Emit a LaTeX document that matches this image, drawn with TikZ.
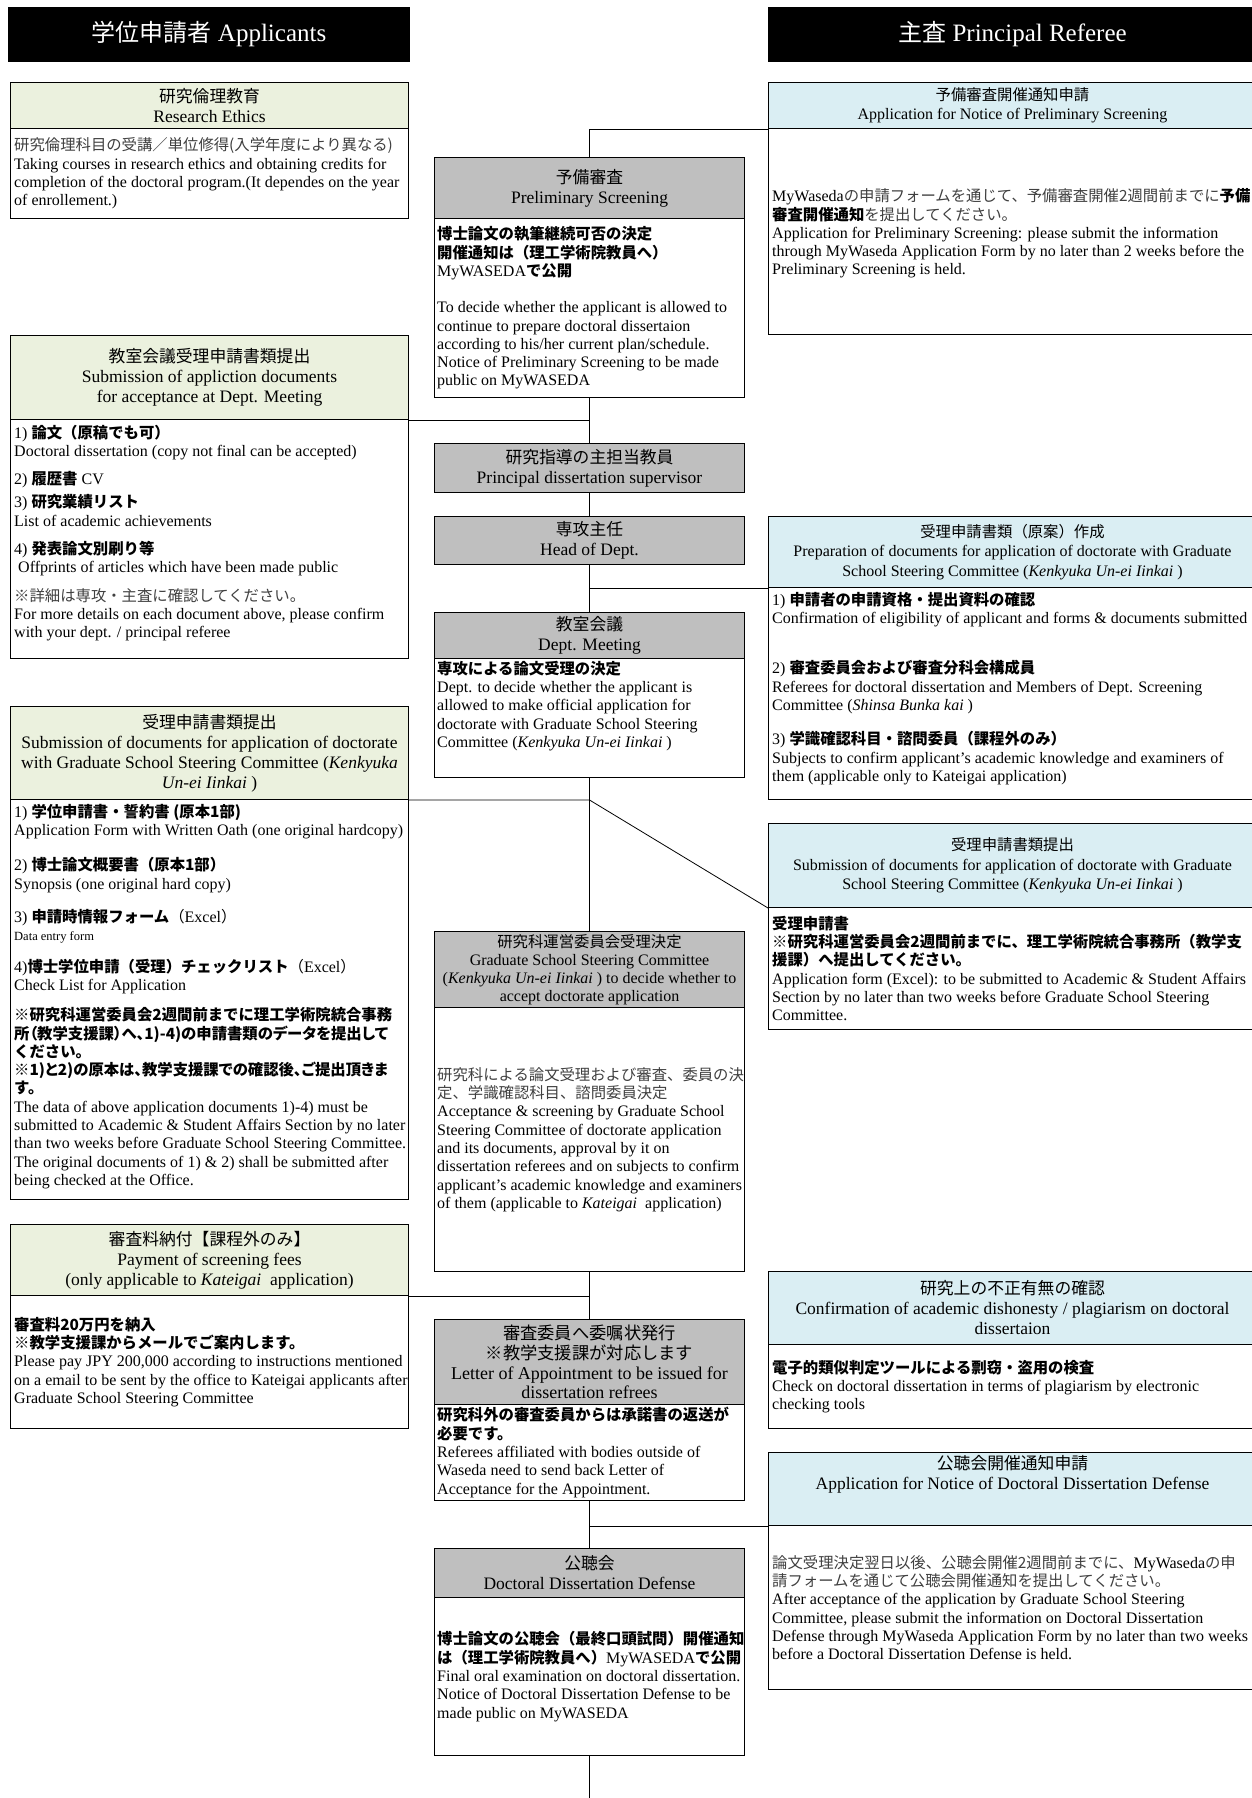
\documentclass[tikz,border=0pt]{standalone}
\usepackage{fontspec}
\setmainfont{Liberation Serif}
\newfontfamily\jp{Noto Sans CJK JP}[Scale=0.96]
\newfontfamily\jpp{Noto Sans CJK JP}[Scale=0.96, RawFeature=+palt]
\newcommand{\jr}[1]{{\jp #1}}
\newcommand{\jb}[1]{{\jp\bfseries #1}}
\newcommand{\jbp}[1]{{\jpp\bfseries #1}}
\newcommand{\jl}[1]{{\jp\color{lighttxt}#1}}
\definecolor{hdgreen}{HTML}{EBF1DE}
\definecolor{hdblue}{HTML}{DAEEF3}
\definecolor{hdgray}{HTML}{BFBFBF}
\definecolor{lighttxt}{HTML}{404040}

\begin{document}
\begin{tikzpicture}[x=1pt, y=-1pt,
    box/.style={draw, line width=1pt, anchor=north west, inner sep=0pt, align=center, font=\fontsize{16}{19.5}\selectfont},
    lbox/.style={box, minimum width=398pt},
    cbox/.style={box, minimum width=310pt},
    rbox/.style={box, minimum width=488pt},
    big/.style={font=\fontsize{17.5}{20}\selectfont},
    ttl/.style={align=center, inner sep=0pt, big},
    txt/.style={anchor=west, align=left, inner sep=0pt, font=\fontsize{16}{18.3}\selectfont},
    conn/.style={line width=0.8pt}]

    % Page
    \fill[white] (0,0) rectangle (1252,1798);
    \useasboundingbox (0,0) rectangle (1252,1798);

    % Column headers
    \node[box, fill=black, text=white, minimum width=401pt, minimum height=54pt, font=\fontsize{25}{28}\selectfont] (applH) at (8,7) {\jr{学位申請者} Applicants};
    \node[box, fill=black, text=white, minimum width=488pt, minimum height=54pt, font=\fontsize{25}{28}\selectfont] (refH) at (768,7) {\jr{主査} Principal Referee};

    % Left column (applicant)
    \node[lbox, big, fill=hdgreen, minimum height=46pt] (ethicsT) at (10,82) {\jr{研究倫理教育}\\Research Ethics};
    \node[lbox, minimum height=90pt] (ethicsB) at (10,128) {};
    \node[txt] (ethicsX) at ([xshift=4pt]ethicsB.west) {\jl{研究倫理科目の受講／単位修得(入学年度により異なる)}\\
        Taking courses in research ethics and obtaining credits for\\
        completion of the doctoral program.(It dependes on the year\\
        of enrollement.)};

    \node[lbox, big, fill=hdgreen, minimum height=84pt] (docsT) at (10,335) {\jr{教室会議受理申請書類提出}\\Submission of appliction documents\\for acceptance at Dept. Meeting};
    \node[lbox, minimum height=239pt] (docsB) at (10,419) {};
    \node[txt, yshift=6pt] (docsX) at ([xshift=4pt]docsB.west) {1) \jb{論文（原稿でも可）}\\
        Doctoral dissertation (copy not final can be accepted)\\[10pt]
        2) \jb{履歴書} CV\\[5pt]
        3) \jb{研究業績リスト}\\
        List of academic achievements\\[10pt]
        4) \jb{発表論文別刷り等}\\
        \ Offprints of articles which have been made public\\[10pt]
        \jl{※詳細は専攻・主査に確認してください。}\\
        For more details on each document above, please confirm\\
        with your dept. / principal referee};

    \node[lbox, big, fill=hdgreen, minimum height=93pt] (applyT) at (10,706) {\jr{受理申請書類提出}\\Submission of documents for application of doctorate\\with Graduate School Steering Committee (\textit{Kenkyuka}\\\textit{Un-ei Iinkai} )};
    \node[lbox, minimum height=400pt] (applyB) at (10,799) {};
    \node[txt, yshift=3pt] (applyX) at ([xshift=4pt]applyB.west) {1) \jb{学位申請書・誓約書 (原本1部)}\\
        Application Form with Written Oath (one original hardcopy)\\[17pt]
        2) \jb{博士論文概要書（原本1部）}\\
        Synopsis (one original hard copy)\\[15pt]
        3) \jb{申請時情報フォーム}\jr{（}Excel\jr{）}\\
        {\fontsize{12.5}{14}\selectfont Data entry form}\\[13pt]
        4)\jb{博士学位申請（受理）チェックリスト}\jr{（}Excel\jr{）}\\
        Check List for Application\\[12pt]
        \jb{※研究科運営委員会2週間前までに理工学術院統合事務}\\
        \jbp{所（教学支援課）へ、1)-4)の申請書類のデータを提出して}\\
        \jb{ください。}\\
        \jbp{※1)と2)の原本は、教学支援課での確認後、ご提出頂きま}\\
        \jb{す。}\\
        The data of above application documents 1)-4) must be\\
        submitted to Academic \& Student Affairs Section by no later\\
        than two weeks before Graduate School Steering Committee.\\
        The original documents of 1) \& 2) shall be submitted after\\
        being checked at the Office.};

    \node[lbox, big, fill=hdgreen, minimum height=71pt] (feeT) at (10,1224) {\jr{審査料納付【課程外のみ】}\\Payment of screening fees\\(only applicable to \textit{Kateigai}\ \ application)};
    \node[lbox, minimum height=133pt] (feeB) at (10,1295) {};
    \node[txt] (feeX) at ([xshift=4pt]feeB.west) {\jb{審査料20万円を納入}\\
        \jb{※教学支援課からメールでご案内します。}\\
        Please pay JPY 200,000 according to instructions mentioned\\
        on a email to be sent by the office to Kateigai applicants after\\
        Graduate School Steering Committee};

    % Center column (flow)
    \node[cbox, big, fill=hdgray, minimum height=61pt] (prelimT) at (434,157) {\jr{予備審査}\\Preliminary Screening};
    \node[cbox, minimum height=179pt] (prelimB) at (434,218) {};
    \node[txt] (prelimX) at ([xshift=3pt]prelimB.west) {\jb{博士論文の執筆継続可否の決定}\\
        \jb{開催通知は（理工学術院教員へ）}\\
        MyWASEDA\jb{で公開}\\[18pt]
        To decide whether the applicant is allowed to\\
        continue to prepare doctoral dissertaion\\
        according to his/her current plan/schedule.\\
        Notice of Preliminary Screening to be made\\
        public on MyWASEDA};

    \node[cbox, big, fill=hdgray, minimum height=49pt] (superv) at (434,443) {\jr{研究指導の主担当教員}\\Principal dissertation supervisor};
    \node[cbox, big, fill=hdgray, minimum height=48pt] (head) at (434,516) {\jr{専攻主任}\\Head of Dept.};

    \node[cbox, big, fill=hdgray, minimum height=46pt] (meetT) at (434,612) {\jr{教室会議}\\Dept. Meeting};
    \node[cbox, minimum height=119pt] (meetB) at (434,658) {};
    \node[txt, yshift=12pt] (meetX) at ([xshift=3pt]meetB.west) {\jb{専攻による論文受理の決定}\\
        Dept. to decide whether the applicant is\\
        allowed to make official application for\\
        doctorate with Graduate School Steering\\
        Committee (\textit{Kenkyuka Un-ei Iinkai} )};

    \node[cbox, fill=hdgray, minimum height=76pt, font=\fontsize{16}{18}\selectfont] (steerT) at (434,931) {\jr{研究科運営委員会受理決定}\\Graduate School Steering Committee\\(\textit{Kenkyuka Un-ei Iinkai} ) to decide whether to\\accept doctorate application};
    \node[cbox, minimum height=264pt] (steerB) at (434,1007) {};
    \node[txt] (steerX) at ([xshift=3pt]steerB.west) {\jl{研究科による論文受理および審査、委員の決}\\
        \jl{定、学識確認科目、諮問委員決定}\\
        Acceptance \& screening by Graduate School\\
        Steering Committee of doctorate application\\
        and its documents, approval by it on\\
        dissertation referees and on subjects to confirm\\
        applicant's academic knowledge and examiners\\
        of them (applicable to \textit{Kateigai}\ \ application)};

    \node[cbox, fill=hdgray, minimum height=85pt, font=\fontsize{18}{19.7}\selectfont] (letterT) at (434,1319) {\jr{審査委員へ委嘱状発行}\\\jr{※教学支援課が対応します}\\Letter of Appointment to be issued for\\dissertation refrees};
    \node[cbox, minimum height=96pt] (letterB) at (434,1404) {};
    \node[txt] (letterX) at ([xshift=3pt]letterB.west) {\jb{研究科外の審査委員からは承諾書の返送が}\\
        \jb{必要です。}\\
        Referees affiliated with bodies outside of\\
        Waseda need to send back Letter of\\
        Acceptance for the Appointment.};

    \node[cbox, big, fill=hdgray, minimum height=49pt] (defT) at (434,1548) {\jr{公聴会}\\Doctoral Dissertation Defense};
    \node[cbox, minimum height=158pt] (defB) at (434,1597) {};
    \node[txt] (defX) at ([xshift=3pt]defB.west) {\jb{博士論文の公聴会（最終口頭試問）開催通知}\\
        \jb{は（理工学術院教員へ）}MyWASEDA\jb{で公開}\\
        Final oral examination on doctoral dissertation.\\
        Notice of Doctoral Dissertation Defense to be\\
        made public on MyWASEDA};

    % Right column (principal referee)
    \node[rbox, fill=hdblue, minimum height=46pt] (noticeT) at (768,82) {\jr{予備審査開催通知申請}\\Application for Notice of Preliminary Screening};
    \node[rbox, minimum height=206pt] (noticeB) at (768,128) {};
    \node[txt, yshift=-2pt] (noticeX) at ([xshift=4pt]noticeB.west) {MyWaseda\jl{の申請フォームを通じて、予備審査開催2週間前までに}\jb{予備}\\
        \jb{審査開催通知}\jl{を提出してください。}\\
        Application for Preliminary Screening: please submit the information\\
        through MyWaseda Application Form by no later than 2 weeks before the\\
        Preliminary Screening is held.};

    \node[rbox, fill=hdblue, minimum height=71pt] (prepT) at (768,516) {\jr{受理申請書類（原案）作成}\\Preparation of documents for application of doctorate with Graduate\\School Steering Committee (\textit{Kenkyuka Un-ei Iinkai} )};
    \node[rbox, minimum height=212pt] (prepB) at (768,587) {};
    \node[txt, yshift=5pt] (prepX) at ([xshift=4pt]prepB.west) {1) \jb{申請者の申請資格・提出資料の確認}\\
        Confirmation of eligibility of applicant and forms \& documents submitted\\[32pt]
        2) \jb{審査委員会および審査分科会構成員}\\
        Referees for doctoral dissertation and Members of Dept. Screening\\
        Committee (\textit{Shinsa Bunka kai} )\\[16pt]
        3) \jb{学識確認科目・諮問委員（課程外のみ）}\\
        Subjects to confirm applicant's academic knowledge and examiners of\\
        them (applicable only to Kateigai application)};

    \node[rbox, fill=hdblue, minimum height=84pt] (submitT) at (768,823) {\jr{受理申請書類提出}\\Submission of documents for application of doctorate with Graduate\\School Steering Committee (\textit{Kenkyuka Un-ei Iinkai} )};
    \node[rbox, minimum height=122pt] (submitB) at (768,907) {};
    \node[txt] (submitX) at ([xshift=4pt]submitB.west) {\jb{受理申請書}\\
        \jb{※研究科運営委員会2週間前までに、理工学術院統合事務所（教学支}\\
        \jb{援課）へ提出してください。}\\
        Application form (Excel): to be submitted to Academic \& Student Affairs\\
        Section by no later than two weeks before Graduate School Steering\\
        Committee.};

    \node[rbox, big, fill=hdblue, minimum height=73pt] (plagT) at (768,1271) {\jr{研究上の不正有無の確認}\\Confirmation of academic dishonesty / plagiarism on doctoral\\dissertaion};
    \node[rbox, minimum height=84pt] (plagB) at (768,1344) {};
    \node[txt] (plagX) at ([xshift=4pt]plagB.west) {\jb{電子的類似判定ツールによる剽窃・盗用の検査}\\
        Check on doctoral dissertation in terms of plagiarism by electronic\\
        checking tools};

    \node[rbox, fill=hdblue, minimum height=73pt] (defnT) at (768,1452) {};
    \node[ttl] (defnL) at ([yshift=15pt]defnT.center) {\jr{公聴会開催通知申請}\\Application for Notice of Doctoral Dissertation Defense};
    \node[rbox, minimum height=164pt] (defnB) at (768,1525) {};
    \node[txt] (defnX) at ([xshift=4pt]defnB.west) {\jl{論文受理決定翌日以後、公聴会開催2週間前までに、}MyWaseda\jl{の申}\\
        \jl{請フォームを通じて公聴会開催通知を提出してください。}\\
        After acceptance of the application by Graduate School Steering\\
        Committee, please submit the information on Doctoral Dissertation\\
        Defense through MyWaseda Application Form by no later than two weeks\\
        before a Doctoral Dissertation Defense is held.};

    % Connectors
    \draw[conn] (prelimT.north) |- (noticeT.south west);
    \draw[conn] (prelimB.south) -- (superv.north);
    \draw[conn] (docsT.south east) -- (docsT.south east -| prelimB.south);
    \draw[conn] (superv.south) -- (head.north);
    \draw[conn] (head.south) -- (meetT.north);
    \draw[conn] (prepT.south west) -- (prepT.south west -| head.south);
    \draw[conn] (meetB.south) -- (steerT.north);
    \coordinate (split) at (applyT.south east -| meetB.south);
    \draw[conn] (applyT.south east) -- (split) -- (submitT.south west);
    \draw[conn] (steerB.south) -- (letterT.north);
    \draw[conn] (feeT.south east) -- (feeT.south east -| steerB.south);
    \draw[conn] (letterB.south) -- (defT.north);
    \draw[conn] (defnT.south west) -- (defnT.south west -| letterB.south);
    \coordinate (tail) at (defB.south |- 0,1800);
    \draw[conn] (defB.south) -- (tail);
\end{tikzpicture}
\end{document}
